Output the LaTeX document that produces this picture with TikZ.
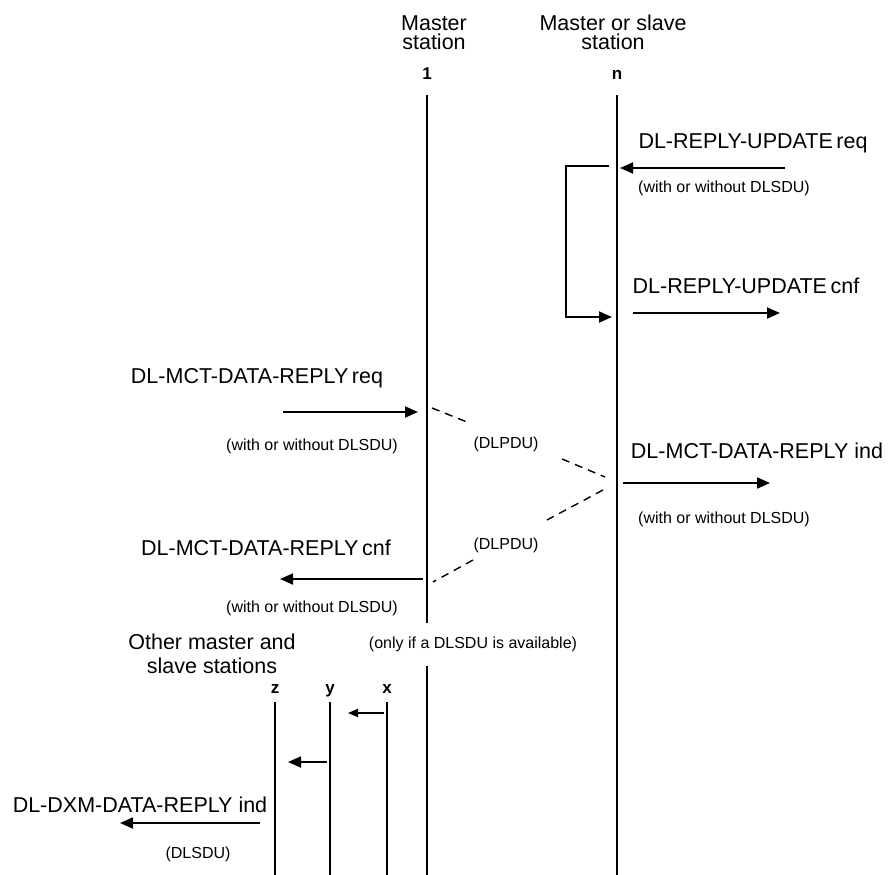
\documentclass[tikz,border=0pt]{standalone}
\usepackage{fontspec}
\setmainfont{Liberation Sans}
\usetikzlibrary{arrows.meta}
\tikzset{
  big/.style={font=\fontsize{21.5}{20}\selectfont, inner sep=0pt, anchor=base},
  small/.style={font=\fontsize{16}{18}\selectfont, inner sep=0pt, anchor=base},
  idx/.style={font=\bfseries\fontsize{17}{18}\selectfont, inner sep=0pt, anchor=base},
  life/.style={line width=1.8pt},
  msg/.style={line width=1.8pt, -{Triangle[length=13pt,width=11pt]}},
  smsg/.style={line width=1.8pt, -{Triangle[length=10pt,width=8pt]}},
  dsh/.style={line width=1.4pt, dash pattern=on 8pt off 6pt},
}
\begin{document}
\begin{tikzpicture}[x=1pt,y=-1pt]
\useasboundingbox (0,0) rectangle (889,875);
% headers (base = baseline of last line)
\node[big, align=center] (h1) at (434,50) {Master\\station};
\node[big, align=center] (hn) at (613,50) {Master or slave\\station};
\node[idx] (l1) at (427,80) {1};
\node[idx] (ln) at (617,80) {n};
% lifelines
\coordinate (one top) at (427,95);
\coordinate (one gapA) at (427,623);
\coordinate (one gapB) at (427,666);
\coordinate (one bot) at (427,875);
\coordinate (n top) at (617,95);
\coordinate (n bot) at (617,875);
\draw[life] (one top) -- (one gapA);
\draw[life] (one gapB) -- (one bot);
\draw[life] (n top) -- (n bot);
% DL-REPLY-UPDATE req
\node[big] (rq) at (753,148) {DL-REPLY-UPDATE\,req};
\coordinate (rqS) at (785,168);
\coordinate (rqE) at (620,168);
\draw[msg] (rqS) -- (rqE);
\node[small] (rqw) at (724,192) {(with or without DLSDU)};
% bracket
\coordinate (bA) at (609,166);
\coordinate (bB) at (566,166);
\coordinate (bC) at (566,317);
\coordinate (bD) at (612,317);
\draw[msg] (bA) -- (bB) -- (bC) -- (bD);
% DL-REPLY-UPDATE cnf
\node[big] (rc) at (746,293) {DL-REPLY-UPDATE\,cnf};
\coordinate (rcS) at (633,313);
\coordinate (rcE) at (780,313);
\draw[msg] (rcS) -- (rcE);
% DL-MCT-DATA-REPLY req
\node[big] (mq) at (257,383) {DL-MCT-DATA-REPLY\,req};
\coordinate (mqS) at (283,412);
\coordinate (mqE) at (418,412);
\draw[msg] (mqS) -- (mqE);
\node[small] (mqw) at (312,450) {(with or without DLSDU)};
% DLPDU 1
\node[small] (p1) at (506,448) {(DLPDU)};
\coordinate (d1a) at (432,408);
\coordinate (d1b) at (467,422);
\coordinate (d1c) at (562,459);
\coordinate (d1d) at (605,477);
\draw[dsh] (d1a) -- (d1b);
\draw[dsh] (d1c) -- (d1d);
% DL-MCT-DATA-REPLY ind
\node[big] (mi) at (757,458) {DL-MCT-DATA-REPLY ind};
\coordinate (miS) at (623,483);
\coordinate (miE) at (770,483);
\draw[msg] (miS) -- (miE);
\node[small] (miw) at (724,523) {(with or without DLSDU)};
% DLPDU 2
\node[small] (p2) at (506,549) {(DLPDU)};
\coordinate (d2a) at (603,490);
\coordinate (d2b) at (547,520);
\coordinate (d2c) at (473,560);
\coordinate (d2d) at (433,582);
\draw[dsh] (d2a) -- (d2b);
\draw[dsh] (d2c) -- (d2d);
% DL-MCT-DATA-REPLY cnf
\node[big] (mc) at (266,555) {DL-MCT-DATA-REPLY\,cnf};
\coordinate (mcS) at (423,579);
\coordinate (mcE) at (280,579);
\draw[msg] (mcS) -- (mcE);
\node[small] (mcw) at (312,612) {(with or without DLSDU)};
\node[small] (only) at (473,648) {(only if a DLSDU is available)};
% other stations
\node[big, align=center, font=\fontsize{21.5}{24}\selectfont] (oth) at (212,673) {Other master and\\slave stations};
\node[idx] (lz) at (275,693) {z};
\node[idx] (ly) at (330,693) {y};
\node[idx] (lx) at (387,693) {x};
\coordinate (z top) at (275,702);
\coordinate (z bot) at (275,875);
\coordinate (y top) at (330,702);
\coordinate (y bot) at (330,875);
\coordinate (x top) at (387,702);
\coordinate (x bot) at (387,875);
\draw[life] (z top) -- (z bot);
\draw[life] (y top) -- (y bot);
\draw[life] (x top) -- (x bot);
\coordinate (xyS) at (384,713);
\coordinate (xyE) at (348,713);
\draw[smsg] (xyS) -- (xyE);
\coordinate (yzS) at (327,762);
\coordinate (yzE) at (288,762);
\draw[msg] (yzS) -- (yzE);
% DXM
\node[big] (dx) at (140,812) {DL-DXM-DATA-REPLY ind};
\coordinate (dxS) at (260,823);
\coordinate (dxE) at (120,823);
\draw[msg] (dxS) -- (dxE);
\node[small] (dxw) at (198,858) {(DLSDU)};
\end{tikzpicture}
\end{document}
